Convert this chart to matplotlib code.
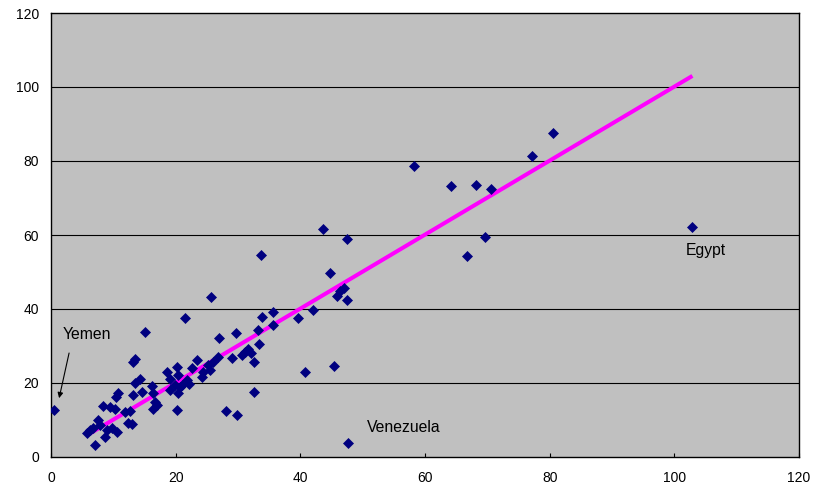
import matplotlib
matplotlib.use("Agg")
import matplotlib.pyplot as plt

# Country observations: x and y values
x_vals = [0.5, 5.8, 6.3, 6.7, 7.1, 7.5, 7.9, 8.3, 8.7, 9.0, 9.5, 9.8, 10.3, 10.6, 10.8,
          10.4, 11.9, 12.7, 12.4, 13.0, 13.5, 13.2, 15.1, 13.5, 14.3, 13.2, 14.6, 16.2,
          16.4, 16.7, 17.0, 16.4, 18.6, 20.2, 20.4, 19.1, 19.9, 20.7, 19.1, 20.4, 20.2,
          21.5, 25.7, 21.0, 22.2, 21.8, 22.6, 23.4, 24.2, 24.4, 25.5, 26.0, 26.8, 25.2,
          27.0, 28.1, 29.9, 29.1, 29.7, 30.7, 31.1, 31.6, 32.1, 32.6, 32.6, 33.4, 33.2,
          33.9, 33.7, 35.6, 35.6, 39.6, 40.8, 42.1, 43.7, 44.8, 45.4, 45.9, 47.0, 46.4,
          47.5, 47.5, 47.7, 58.3, 64.2, 66.8, 68.2, 69.7, 70.6, 77.2, 80.6, 102.9]
y_vals = [12.7, 6.5, 7.3, 7.8, 3.2, 10.0, 8.6, 13.8, 5.4, 7.3, 13.5, 7.8, 13.0, 6.8, 17.3,
          16.2, 12.2, 12.4, 9.2, 8.9, 26.5, 25.7, 33.8, 20.0, 21.1, 16.8, 17.6, 19.2,
          17.3, 14.9, 14.1, 13.0, 23.0, 24.3, 22.2, 21.1, 19.5, 18.9, 18.1, 17.3, 12.7,
          37.6, 43.2, 19.5, 19.7, 20.8, 24.1, 26.2, 21.6, 23.0, 23.5, 25.7, 27.0, 24.9,
          32.2, 12.4, 11.4, 26.8, 33.5, 27.6, 28.4, 29.2, 28.1, 25.7, 17.6, 30.5, 34.3,
          37.8, 54.6, 39.2, 35.7, 37.6, 23.0, 39.7, 61.6, 49.7, 24.6, 43.5, 45.7, 45.0,
          58.9, 42.4, 3.8, 78.6, 73.2, 54.3, 73.5, 59.5, 72.4, 81.4, 87.6, 62.2]

# Reference line
line_x = [5.8, 102.9]
line_y = [5.9, 103.0]

# Axis ticks
x_ticks = [0, 20, 40, 60, 80, 100, 120]
y_ticks = [0, 20, 40, 60, 80, 100, 120]

plt.rcParams['font.family'] = ['Liberation Sans', 'DejaVu Sans']

fig = plt.figure(figsize=(8.25, 4.88), dpi=100)
fig.patch.set_facecolor('white')
ax = fig.add_axes([51 / 825, 31 / 488, 748 / 825, 444 / 488])
ax.set_facecolor('#C0C0C0')

ax.set_xlim(0, 120)
ax.set_ylim(0, 120)
ax.set_xticks(x_ticks)
ax.set_yticks(y_ticks)

for yv in y_ticks[1:-1]:
    ax.axhline(yv, color='black', linewidth=0.8, zorder=1)

ax.plot(line_x, line_y, color='#FF00FF', linewidth=2.9, solid_capstyle='butt', zorder=2)
ax.plot(x_vals, y_vals, linestyle='none', marker='D', markersize=4.6,
        markerfacecolor='#000080', markeredgecolor='#000080', markeredgewidth=0.5, zorder=3)

for s in ax.spines.values():
    s.set_color('black')
    s.set_linewidth(1.0)

ax.tick_params(axis='x', direction='in', length=3, width=0.8, pad=10, labelsize=10)
ax.tick_params(axis='y', length=0, pad=8.6, labelsize=10)

ax.text(101.9, 55.9, 'Egypt', fontsize=11.3, ha='left', va='center')
ax.text(50.7, 8.1, 'Venezuela', fontsize=11.3, ha='left', va='center')
ax.text(1.8, 33.0, 'Yemen', fontsize=11.3, ha='left', va='center')
ax.annotate('', xy=(1.3, 15.9), xytext=(2.9, 28.1),
            arrowprops=dict(arrowstyle='-|>', color='black', lw=0.8,
                            mutation_scale=8, shrinkA=0, shrinkB=0))

fig.savefig('out.png', dpi=100)
